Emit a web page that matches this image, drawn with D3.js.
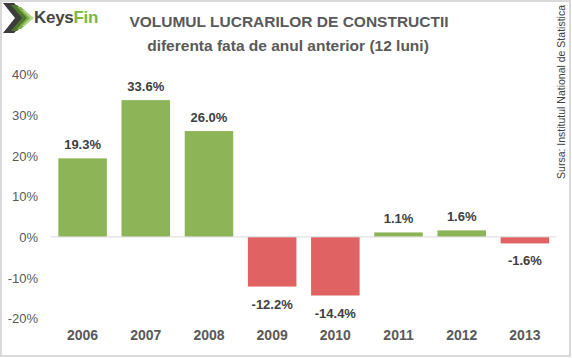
<!DOCTYPE html>
<html><head><meta charset="utf-8">
<script src="https://cdn.jsdelivr.net/npm/d3@7"></script>
<style>
html,body{margin:0;padding:0;background:#fff;}
svg{display:block;}
text{font-family:"Liberation Sans","Open Sans",sans-serif;}
</style></head>
<body>
<svg id="chart" width="572" height="358"></svg>
<script>
const years = ["2006","2007","2008","2009","2010","2011","2012","2013"];
const values = [19.3, 33.6, 26.0, -12.2, -14.4, 1.1, 1.6, -1.6];
const yTicks = [40, 30, 20, 10, 0, -10, -20];
const title = "VOLUMUL LUCRARILOR DE CONSTRUCTII";
const subtitle = "diferenta fata de anul anterior (12 luni)";
const source = "Sursa: Institutul National de Statistica";

const W = 572, H = 358;
const svg = d3.select("#chart");

// border
svg.append("rect").attr("x",1).attr("y",1).attr("width",W-3).attr("height",H-3)
  .attr("fill","#fff").attr("stroke","#d9d9d9").attr("stroke-width",2);

// logo
const logo = svg.append("g").attr("transform","translate(3,3)");
logo.append("path").attr("d","M0,0 L11,0 L26,15 L11,30 L0,30 L12,15 Z").attr("fill","#3c3c3c");
logo.append("path").attr("d","M8,2 L14,2 L28,15 L14,28 L8,28 L19,15 Z").attr("fill","#4f7a2e");
logo.append("path").attr("d","M14,4 L18,4 L30,15 L18,26 L14,26 L24,15 Z").attr("fill","#7fae4a");
logo.append("path").attr("d","M19,7 L21,7 L31,15 L21,23 L19,23 L27,15 Z").attr("fill","#b5d58a");
const lt = svg.append("text").attr("x",34).attr("y",23).attr("font-size",17).attr("font-weight","bold")
  .attr("letter-spacing",-0.3);
lt.append("tspan").attr("fill","#454545").text("Keys");
lt.append("tspan").attr("fill","#7ab648").text("Fin");

// titles
svg.append("text").attr("x",289).attr("y",27).attr("text-anchor","middle")
  .attr("font-size",15.5).attr("font-weight","bold").attr("fill","#595959").text(title);
svg.append("text").attr("x",288).attr("y",51).attr("text-anchor","middle")
  .attr("font-size",15.5).attr("font-weight","bold").attr("fill","#595959").text(subtitle);

// source
svg.append("text").attr("transform","translate(565,92) rotate(-90)").attr("text-anchor","middle")
  .attr("font-size",10.5).attr("fill","#404040").text(source);

// scales
const x = d3.scaleBand().domain(years).range([51, 556.5]).paddingInner(0.232).paddingOuter(0.116);
const y = d3.scaleLinear().domain([-20, 40]).range([318.3, 74.1]);

// y axis labels
const yAxis = d3.axisLeft(y).tickValues(yTicks).tickFormat(d => d + "%").tickSize(0).tickPadding(0);
const gy = svg.append("g").attr("transform","translate(38,0)").call(yAxis);
gy.select(".domain").remove();
gy.selectAll("text").attr("font-size",13).attr("fill","#595959")
  .attr("font-family","'Liberation Sans','Open Sans',sans-serif").attr("dy","0.35em");

// bars
svg.selectAll("rect.bar").data(values).join("rect").attr("class","bar")
  .attr("x",(d,i)=>x(years[i])).attr("width",x.bandwidth())
  .attr("y",d=>y(Math.max(0,d))).attr("height",d=>Math.abs(y(d)-y(0)))
  .attr("fill",d=>d>=0?"#8db456":"#e06262");

// zero line
svg.append("line").attr("x1",51).attr("x2",556.5).attr("y1",y(0)).attr("y2",y(0))
  .attr("stroke","#d9d9d9").attr("stroke-width",1);

// data labels
svg.selectAll("text.lbl").data(values).join("text").attr("class","lbl")
  .attr("x",(d,i)=>x(years[i])+x.bandwidth()/2)
  .attr("y",d=>d>=0?y(d)-9:y(d)+22)
  .attr("text-anchor","middle").attr("font-size",13).attr("font-weight","bold").attr("fill","#404040")
  .text(d=>d.toFixed(1)+"%");

// x axis labels
const xAxis = d3.axisBottom(x).tickSize(0).tickPadding(0);
const gx = svg.append("g").attr("transform","translate(0,330)").call(xAxis);
gx.select(".domain").remove();
gx.selectAll("text").attr("font-size",14).attr("font-weight","bold").attr("fill","#595959")
  .attr("font-family","'Liberation Sans','Open Sans',sans-serif").attr("dy","0.71em");
</script>
</body></html>
